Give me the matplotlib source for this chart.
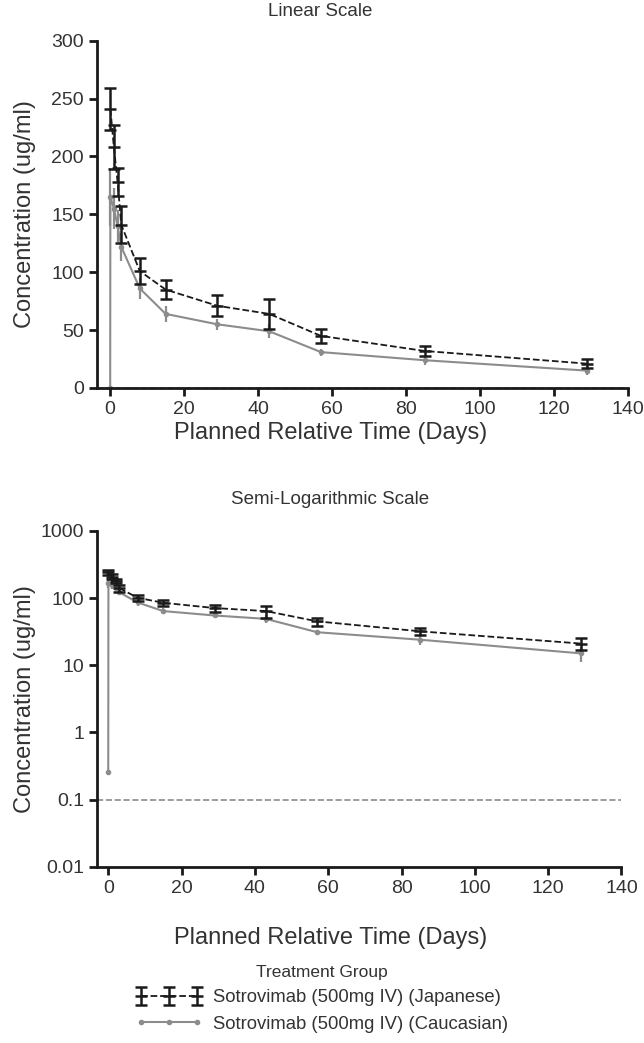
import matplotlib.pyplot as plt
import numpy as np

plt.rcParams['font.family'] = ['Liberation Sans', 'DejaVu Sans']

# Japanese group (mean, SD)
jp_days = [0.05, 1, 2, 3, 8, 15, 29, 43, 57, 85, 129]
jp_mean = [241, 208, 178, 141, 101, 85, 71, 64, 45, 32, 21]
jp_sd = [18, 19, 12, 16, 11, 8, 9, 13, 6, 4, 4]

# Caucasian group (mean, SD)
cau_days = [0, 0.05, 1, 2, 3, 8, 15, 29, 43, 57, 85, 129]
cau_mean = [0.26, 165, 155, 140, 122, 86, 64, 55, 49, 31, 24, 15]
cau_sd = [0, 25, 18, 14, 12, 9, 7, 5, 6, 3, 4, 4]

lloq_linear = 0
lloq_log = 0.1

jp_label = 'Sotrovimab (500mg IV) (Japanese)'
cau_label = 'Sotrovimab (500mg IV) (Caucasian)'

txt = '#333333'
fig = plt.figure(figsize=(6.44, 10.43), dpi=100)


def draw(ax, log=False):
    h_cau = ax.errorbar(cau_days, cau_mean, yerr=cau_sd, color='#8c8c8c', lw=1.5,
                        marker='o', ms=3, elinewidth=1.6, capsize=0, zorder=2)
    h_jp = ax.errorbar(jp_days, jp_mean, yerr=jp_sd, color='#1a1a1a', lw=1.3, ls='--',
                       marker='_', ms=9, mew=1.8, elinewidth=1.8, capsize=4.5,
                       capthick=1.8, zorder=3)
    ax.axhline(lloq_log if log else lloq_linear, color='#8c8c8c', ls='--', lw=1.2, zorder=1)
    for s in ['top', 'right']:
        ax.spines[s].set_visible(False)
    for s in ['left', 'bottom']:
        ax.spines[s].set_linewidth(2)
        ax.spines[s].set_color('#1a1a1a')
    ax.tick_params(width=2, length=6, colors='#1a1a1a', labelcolor=txt, labelsize=14)
    ax.set_xticks(np.arange(0, 141, 20))
    ax.set_ylabel('Concentration (ug/ml)', fontsize=17, color=txt)
    return h_jp, h_cau


ax1 = fig.add_axes([0.151, 0.628, 0.824, 0.333])
draw(ax1)
ax1.set_xlim(-3.5, 140)
ax1.set_ylim(0, 300)
ax1.set_yticks(np.arange(0, 301, 50))
ax1.set_xlabel('Planned Relative Time (Days)', fontsize=17, color=txt, labelpad=3, x=0.44)
ax1.yaxis.set_label_coords(-0.116, 0.5)
fig.text(0.497, 1 - 12 / 1043, 'Linear Scale', fontsize=13.5, color=txt,
         ha='center', va='center')

ax2 = fig.add_axes([0.151, 0.169, 0.814, 0.322])
h_jp, h_cau = draw(ax2, log=True)
ax2.set_yscale('log')
ax2.set_xlim(-3, 140)
ax2.set_ylim(0.01, 1000)
ax2.set_yticks([0.01, 0.1, 1, 10, 100, 1000])
ax2.set_yticklabels(['0.01', '0.1', '1', '10', '100', '1000'])
ax2.minorticks_off()
ax2.set_xlabel('Planned Relative Time (Days)', fontsize=17, color=txt, labelpad=22, x=0.445)
ax2.yaxis.set_label_coords(-0.117, 0.5)
fig.text(0.512, 1 - 500 / 1043, 'Semi-Logarithmic Scale', fontsize=13.5, color=txt,
         ha='center', va='center')

leg = fig.legend([h_jp, h_cau[0]], [jp_label, cau_label], title='Treatment Group',
                 loc='upper center', bbox_to_anchor=(0.5, 0.087), frameon=False,
                 fontsize=13.3, title_fontsize=12.5, handlelength=3.6, numpoints=3,
                 labelspacing=0.5, handletextpad=0.6, borderpad=0.2)
for t in leg.get_texts():
    t.set_color(txt)
leg.get_title().set_color(txt)

fig.savefig('out.png', dpi=100)
